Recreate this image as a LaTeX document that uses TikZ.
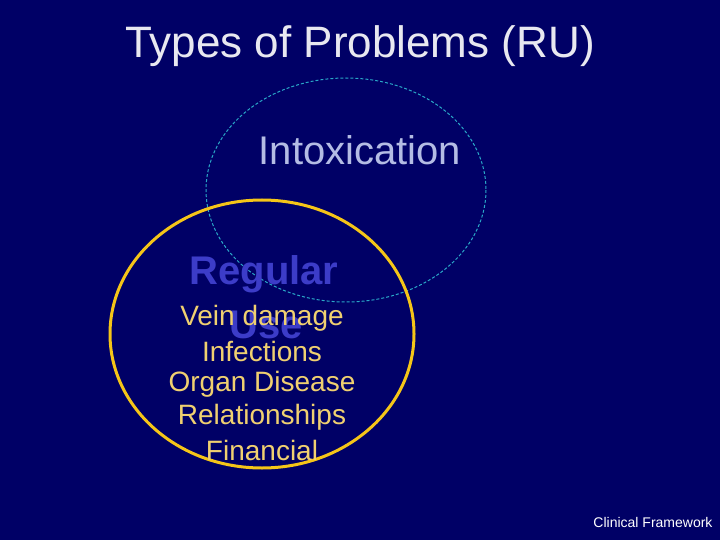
\documentclass[tikz,border=0pt]{standalone}
\usepackage{fontspec}
\setmainfont{Liberation Sans}
\definecolor{bg}{HTML}{000066}
\definecolor{ttl}{HTML}{E8E8F0}
\definecolor{intox}{HTML}{B4BCE4}
\definecolor{reg}{HTML}{3C3CC8}
\definecolor{item}{HTML}{F0D070}
\definecolor{dashcol}{HTML}{2AA8C8}
\definecolor{ring}{HTML}{F5C518}
\begin{document}
\begin{tikzpicture}[x=1pt,y=-1pt,
  txt/.style={inner sep=0pt,anchor=center},
  itm/.style={txt,text=item,font=\fontsize{28}{30}\selectfont}]
\fill[bg] (0,0) rectangle (720,540);
\useasboundingbox (0,0) rectangle (720,540);
\node[txt,text=ttl,font=\fontsize{44}{48}\selectfont] (title) at (360,46) {Types of Problems (RU)};
\draw[dashcol,densely dashed,line width=1pt] (346,190) ellipse [x radius=140,y radius=112];
\draw[ring,line width=3pt] (262,334) ellipse [x radius=152,y radius=134];
\node[txt,text=intox,font=\fontsize{40}{44}\selectfont] (intox) at (360,150) {Intoxication};
\node[txt,text=reg,font=\bfseries\fontsize{40}{44}\selectfont] (r1) at (264,274) {Regular};
\node[txt,text=reg,font=\bfseries\fontsize{40}{44}\selectfont] (r2) at (266,325) {Use};
\node[itm] (i1) at (262,318) {Vein damage};
\node[itm] (i2) at (262,351) {Infections};
\node[itm] (i3) at (262,384) {Organ Disease};
\node[itm] (i4) at (262,417) {Relationships};
\node[itm] (i5) at (262,450) {Financial};
\node[txt,text=white,font=\fontsize{14}{15}\selectfont] (cf) at (653,522) {Clinical Framework};
\end{tikzpicture}
\end{document}
